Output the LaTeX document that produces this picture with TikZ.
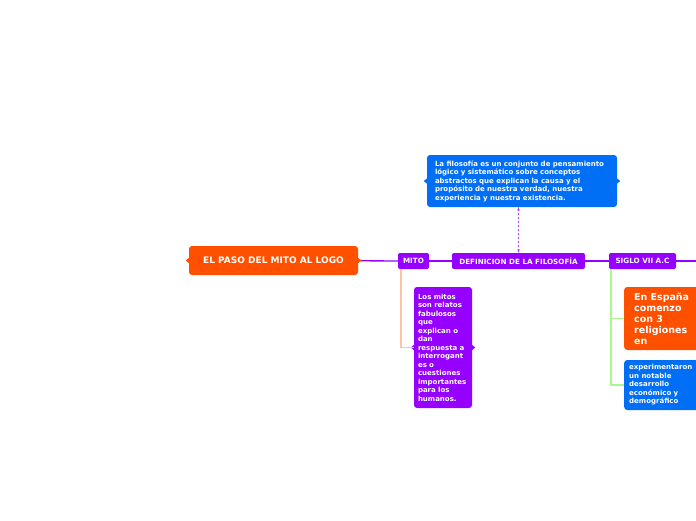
\documentclass[tikz,border=0pt]{standalone}
\usepackage{fontspec}
\setmainfont{DejaVu Sans}
\usepackage{xcolor}
\usepackage{tikz}
\usetikzlibrary{arrows.meta, positioning}
\definecolor{maporange}{RGB}{255, 80, 0}
\definecolor{mappurple}{RGB}{150, 0, 255}
\definecolor{mapblue}{RGB}{0, 110, 245}
\definecolor{mapsalmon}{RGB}{255, 195, 165}
\definecolor{mapgreen}{RGB}{170, 248, 140}

% small side notches of a bubble
\newcommand\notches[2]{
  \fill[#2] ([yshift=-2.5pt]#1.west) -- ++(-3,-2.5) -- ++(3,-2.5) -- cycle;
  \fill[#2] ([yshift=-2.5pt]#1.east) -- ++(3,-2.5) -- ++(-3,-2.5) -- cycle;
}

\begin{document}
\begin{tikzpicture}[
  x=1pt, y=-1pt,
  topic/.style={rounded corners=3pt, fill=maporange, text=white,
                font=\fontsize{9}{10}\selectfont\bfseries,
                minimum width=169pt, minimum height=29pt, inner sep=0pt},
  bar/.style={rounded corners=2pt, fill=mappurple, text=white,
              font=\fontsize{7.2}{8}\selectfont\bfseries,
              minimum height=16pt, inner sep=0pt},
  note/.style={rounded corners=3pt, text=white, align=left,
               font=\fontsize{7}{8.5}\selectfont\bfseries,
               inner sep=0pt},
  link/.style={mappurple, line width=1.3pt},
  rel/.style={mappurple!75, dash pattern=on 2pt off 2pt, line width=0.8pt,
              {Stealth[length=3.5pt]}-{Stealth[length=3.5pt]}}
]
\useasboundingbox (0,0) rectangle (696,520);
\clip (0,0) rectangle (696,520);

% central topic and the main branch
\node[topic] (main) at (273.5,260.5) {EL PASO DEL MITO AL LOGO};
\node[bar, minimum width=31pt] (mito) at (413.5,261) {MITO};
\node[bar, minimum width=133pt] (defin) at (518.5,261) {DEFINICION DE LA FILOSOFÍA};
\node[bar, minimum width=67pt] (siglo) at (642.5,261) {SIGLO VII A.C};
\coordinate (more) at (700,261);

\draw[link] (main) -- (mito);
\draw[link] (mito) -- (defin);
\draw[link] (defin) -- (siglo);
\draw[link] (siglo) -- (more);
\notches{main}{maporange}

% definition note
\node[note, fill=mapblue, minimum width=190pt, minimum height=52pt,
      text width=174pt] (info) at (522,181)
  {La filosofía es un conjunto de pensamiento\\
   lógico y sistemático sobre conceptos\\
   abstractos que explican la causa y el\\
   propósito de nuestra verdad, nuestra\\
   experiencia y nuestra existencia.};
\notches{info}{mapblue}
\draw[rel] (defin.north) -- (defin.north |- info.south);

% myths
\node[note, fill=mappurple, minimum width=58pt, minimum height=121pt,
      text width=50pt] (mitotext) at (443,347.5)
  {Los mitos\\ son relatos\\ fabulosos\\ que\\ explican o\\ dan\\
   respuesta a\\ interrogant\\ es o\\ cuestiones\\ importantes\\
   para los\\ humanos.};
\notches{mitotext}{mappurple}
\draw[mapsalmon, line width=1.2pt] ([xshift=-12.5]mito.south) |- (mitotext.west);

% VII century B.C.
\node[note, fill=maporange, anchor=west, minimum width=90pt, minimum height=63pt,
      text width=70pt, font=\fontsize{9.5}{11}\selectfont\bfseries] (espana) at (624,318.5)
  {En España\\ comenzo\\ con 3\\ religiones\\ en};
\node[note, fill=mapblue, anchor=west, minimum width=90pt, minimum height=50pt,
      text width=80pt] (desarrollo) at (624,385)
  {experimentaron\\ un notable\\ desarrollo\\ económico y\\ demográfico};
\draw[mapgreen, line width=1.3pt] ([xshift=-31.5]siglo.south) |- (espana.west);
\draw[mapgreen, line width=1.3pt] ([xshift=-31.5]siglo.south) |- (desarrollo.west);

\end{tikzpicture}
\end{document}
